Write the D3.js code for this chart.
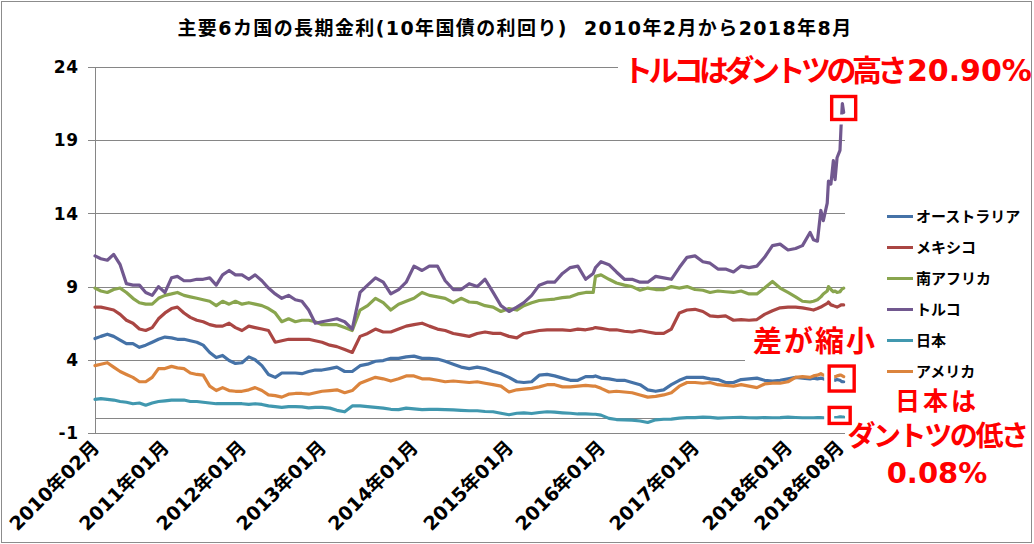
<!DOCTYPE html>
<html><head><meta charset="utf-8">
<script src="https://cdn.jsdelivr.net/npm/d3@7"></script>
<style>
html,body{margin:0;padding:0;background:#fff;}
svg{display:block;}
text{font-family:"DejaVu Sans","Noto Sans CJK JP",sans-serif;font-weight:bold;}
</style></head><body>
<svg id="chart" width="1034" height="544"></svg>
<script>
// ---------------- DATA ----------------
const dates = [
"2010-02-01","2010-03-01","2010-04-01","2010-05-01","2010-06-01","2010-07-01","2010-08-01","2010-09-01","2010-10-01","2010-11-01","2010-12-01",
"2011-01-01","2011-02-01","2011-03-01","2011-04-01","2011-05-01","2011-06-01","2011-07-01","2011-08-01","2011-09-01","2011-10-01","2011-11-01","2011-12-01",
"2012-01-01","2012-02-01","2012-03-01","2012-04-01","2012-05-01","2012-06-01","2012-07-01","2012-08-01","2012-09-01","2012-10-01","2012-11-01","2012-12-01",
"2013-01-01","2013-02-01","2013-03-01","2013-04-01","2013-05-01","2013-06-01","2013-07-01","2013-08-01","2013-09-01","2013-10-01","2013-11-01","2013-12-01",
"2014-01-01","2014-02-01","2014-03-01","2014-04-01","2014-05-01","2014-06-01","2014-07-01","2014-08-01","2014-09-01","2014-10-01","2014-11-01","2014-12-01",
"2015-01-01","2015-02-01","2015-03-01","2015-04-01","2015-05-01","2015-06-01","2015-07-01","2015-08-01","2015-09-01","2015-10-01","2015-11-01","2015-12-01","2015-12-10",
"2016-01-01","2016-02-01","2016-03-01","2016-04-01","2016-05-01","2016-06-01","2016-07-01","2016-08-01","2016-09-01","2016-10-01","2016-11-01","2016-12-01",
"2017-01-01","2017-02-01","2017-03-01","2017-04-01","2017-05-01","2017-06-01","2017-07-01","2017-08-01","2017-09-01","2017-10-01","2017-11-01","2017-12-01",
"2018-01-01","2018-02-01","2018-03-01","2018-04-01","2018-04-15","2018-05-01","2018-05-15","2018-05-25","2018-06-10","2018-06-15","2018-06-25","2018-07-05","2018-07-12","2018-07-20","2018-08-01","2018-08-05","2018-08-10","2018-08-15"
];

const australia = [
5.45,5.6,5.75,5.6,5.35,5.1,5.1,4.85,5.0,5.2,5.4,
5.55,5.5,5.4,5.4,5.3,5.2,5.0,4.5,4.15,4.3,3.95,3.75,
3.8,4.2,4.0,3.6,3.0,2.8,3.1,3.1,3.1,3.05,3.2,3.3,
3.3,3.4,3.5,3.2,3.2,3.6,3.7,3.9,3.95,4.1,4.1,4.2,
4.25,4.1,4.1,4.05,3.9,3.7,3.5,3.4,3.5,3.4,3.2,3.05,
2.8,2.5,2.45,2.5,2.95,3.0,2.9,2.75,2.6,2.6,2.85,2.85,2.9,
2.75,2.7,2.6,2.6,2.45,2.3,1.95,1.85,1.95,2.3,2.6,2.8,
2.8,2.8,2.7,2.65,2.45,2.45,2.65,2.7,2.75,2.6,2.55,2.6,
2.7,2.8,2.75,2.7,2.75,2.7,2.75,2.7,2.65,2.6,2.6,2.65,2.6,2.65,2.6,2.55,2.5,2.5
];
const mexico = [
7.6,7.6,7.5,7.4,7.1,6.7,6.5,6.1,6.0,6.2,6.8,
7.2,7.5,7.6,7.2,6.9,6.7,6.6,6.4,6.3,6.3,6.5,6.2,
6.0,6.3,6.2,6.1,6.0,5.2,5.3,5.4,5.4,5.4,5.4,5.3,
5.2,5.0,4.9,4.7,4.5,5.6,5.8,6.1,5.9,5.9,6.1,6.3,
6.4,6.5,6.3,6.1,6.0,5.8,5.7,5.6,5.8,5.9,5.8,5.8,
5.6,5.5,5.8,5.9,6.0,6.05,6.05,6.05,6.0,6.1,6.05,6.15,6.2,
6.15,6.05,6.05,5.95,5.9,6.0,5.9,5.8,5.8,6.1,7.2,7.4,
7.45,7.3,7.0,6.95,7.0,6.7,6.75,6.7,6.75,7.1,7.35,7.55,
7.6,7.6,7.55,7.45,7.4,7.5,7.6,7.7,7.85,7.95,7.75,7.7,7.65,7.6,7.7,7.75,7.75,7.75
];
const southAfrica = [
8.9,8.7,8.6,8.8,8.9,8.6,8.2,7.9,7.8,7.8,8.2,
8.4,8.5,8.6,8.4,8.3,8.2,8.1,8.0,7.7,8.0,7.8,8.0,
7.8,7.9,7.8,7.7,7.5,7.2,6.6,6.8,6.6,6.7,6.7,6.6,
6.4,6.4,6.4,6.2,6.0,7.4,7.7,8.2,7.9,7.4,7.8,8.0,
8.2,8.6,8.4,8.3,8.2,7.9,8.2,7.95,7.9,7.7,7.6,7.3,
7.5,7.4,7.7,7.9,8.05,8.1,8.15,8.25,8.3,8.5,8.6,8.6,9.7,
9.8,9.5,9.25,9.1,9.0,8.75,8.9,8.8,8.8,9.0,8.9,9.0,
8.8,8.75,8.6,8.7,8.65,8.6,8.7,8.5,8.5,8.9,9.35,8.9,
8.6,8.3,8.0,7.95,8.0,8.1,8.3,8.5,8.7,9.0,8.8,8.65,8.7,8.6,8.65,8.75,8.85,8.9
];
const turkey = [
11.1,10.9,10.8,11.2,10.5,9.2,9.1,9.1,8.6,8.4,9.0,
8.6,9.6,9.7,9.4,9.4,9.5,9.5,9.6,9.1,9.8,10.1,9.8,
9.8,9.5,9.8,9.4,8.9,8.5,8.2,8.4,8.1,8.0,7.4,6.5,
6.6,6.7,6.8,6.6,6.1,8.6,9.1,9.6,9.3,8.5,8.8,9.3,
10.4,10.1,10.4,10.4,9.4,8.8,8.8,9.2,9.0,9.5,8.6,7.7,
7.3,7.6,7.9,8.4,9.1,9.3,9.3,9.9,10.3,10.4,9.5,9.9,10.3,
10.7,10.5,10.0,9.5,9.5,9.3,9.3,9.7,9.6,9.5,10.3,11.0,
11.1,10.7,10.6,10.2,10.2,10.0,10.4,10.3,10.4,11.0,11.8,11.9,
11.5,11.6,11.8,12.7,12.2,12.1,14.2,13.5,14.7,16.2,16.0,17.6,16.3,17.8,18.3,19.9,21.5,20.9
];
const japan = [
1.3,1.35,1.3,1.25,1.15,1.1,1.0,1.05,0.9,1.05,1.15,
1.2,1.25,1.25,1.25,1.15,1.15,1.1,1.05,1.0,1.0,1.0,1.0,
1.0,0.95,1.0,0.95,0.85,0.8,0.75,0.8,0.8,0.78,0.72,0.75,
0.75,0.7,0.55,0.45,0.85,0.85,0.8,0.75,0.7,0.62,0.6,0.7,
0.65,0.6,0.62,0.62,0.6,0.58,0.55,0.52,0.52,0.47,0.45,0.35,
0.25,0.35,0.38,0.33,0.4,0.45,0.42,0.38,0.35,0.3,0.3,0.28,0.28,
0.22,0.0,-0.08,-0.1,-0.12,-0.18,-0.28,-0.1,-0.06,-0.05,0.02,0.05,
0.05,0.08,0.07,0.02,0.04,0.06,0.07,0.04,0.03,0.06,0.04,0.05,
0.08,0.06,0.04,0.04,0.04,0.05,0.05,0.04,0.04,0.04,0.03,0.04,0.05,0.06,0.1,0.1,0.09,0.08
];
const usa = [
3.6,3.7,3.8,3.5,3.2,3.0,2.8,2.5,2.5,2.8,3.4,
3.4,3.55,3.45,3.4,3.1,3.0,2.95,2.2,1.9,2.1,1.9,1.85,
1.85,1.95,2.1,1.9,1.6,1.55,1.45,1.65,1.7,1.7,1.65,1.75,
1.85,1.9,1.95,1.75,1.9,2.4,2.6,2.8,2.7,2.55,2.7,2.9,
2.9,2.7,2.7,2.6,2.5,2.55,2.5,2.45,2.5,2.4,2.3,2.2,
1.8,1.95,2.0,2.05,2.15,2.3,2.3,2.15,2.15,2.2,2.25,2.2,2.2,
2.05,1.8,1.85,1.8,1.75,1.6,1.45,1.5,1.6,1.75,2.2,2.45,
2.45,2.4,2.45,2.3,2.25,2.2,2.3,2.2,2.1,2.35,2.4,2.4,
2.5,2.8,2.85,2.8,2.9,2.95,3.05,2.95,2.95,2.9,2.85,2.85,2.85,2.9,2.95,2.95,2.9,2.85
];

const seriesNames = ["オーストラリア","メキシコ","南アフリカ","トルコ","日本","アメリカ"];
const seriesValues = [australia, mexico, southAfrica, turkey, japan, usa];

const yTicks = [-1, 4, 9, 14, 19, 24];
const xTickDates = ["2010-02-01","2011-01-01","2012-01-01","2013-01-01","2014-01-01","2015-01-01","2016-01-01","2017-01-01","2018-01-01","2018-08-01"];
const xTickLabels = ["2010年02月","2011年01月","2012年01月","2013年01月","2014年01月","2015年01月","2016年01月","2017年01月","2018年01月","2018年08月"];
const axisEndDate = "2018-08-20";

const titleText = "主要6カ国の長期金利(10年国債の利回り)  2010年2月から2018年8月";

// ---------------- LAYOUT / STYLE ----------------
const colors = ["#4572A7","#AA4643","#89A54E","#71588F","#4198AF","#DB843D"];
const plot = {left: 95, right: 845, top: 67, bottom: 433};
// relative position of each axis break along the plot width (category axis spacing)
const breakFrac = [0, 0.0933, 0.196, 0.3027, 0.4253, 0.552, 0.6747, 0.8, 0.924, 0.9933, 1];
const gridColor = "#868686";
const red = "#FF0000";

const parse = d3.timeParse("%Y-%m-%d");
const svg = d3.select("#chart");

const x = d3.scaleTime()
  .domain(xTickDates.concat([axisEndDate]).map(parse))
  .range(breakFrac.map(f => plot.left + f * (plot.right - plot.left)));
const y = d3.scaleLinear().domain([-1, 24]).range([plot.bottom, plot.top]);

// outer border
svg.append("rect").attr("x", 1.5).attr("y", 1.5).attr("width", 1030).attr("height", 541)
  .attr("fill", "#fff").attr("stroke", "#8c8c8c").attr("stroke-width", 1);

// title
svg.append("text").attr("x", 515).attr("y", 35).attr("text-anchor", "middle")
  .attr("font-size", 19).attr("letter-spacing", "1.4px").attr("fill", "#000")
  .attr("xml:space", "preserve").style("white-space", "pre").text(titleText);

// gridlines + y axis
const gGrid = svg.append("g");
gGrid.selectAll("line.grid").data(yTicks).join("line").attr("class", "grid")
  .attr("x1", plot.left - 7).attr("x2", plot.right)
  .attr("y1", d => Math.round(y(d)) + 0.5).attr("y2", d => Math.round(y(d)) + 0.5)
  .attr("stroke", gridColor).attr("stroke-width", 1);
gGrid.append("line").attr("x1", plot.left).attr("x2", plot.right)
  .attr("y1", Math.round(y(0)) + 0.5).attr("y2", Math.round(y(0)) + 0.5)
  .attr("stroke", gridColor).attr("stroke-width", 1);
gGrid.append("line").attr("x1", plot.left + 0.5).attr("x2", plot.left + 0.5)
  .attr("y1", plot.top).attr("y2", plot.bottom)
  .attr("stroke", gridColor).attr("stroke-width", 1);

svg.append("g").selectAll("text").data(yTicks).join("text")
  .attr("x", 79).attr("y", d => y(d)).attr("dy", "0.36em")
  .attr("text-anchor", "end").attr("font-size", 17).attr("letter-spacing", "0.8px")
  .attr("fill", "#000").text(d => d);

// x labels
svg.append("g").selectAll("text").data(xTickDates).join("text")
  .attr("transform", d => `translate(${x(parse(d)) + 0.5},${plot.bottom + 11}) rotate(-45)`)
  .attr("dy", "0.36em").attr("text-anchor", "end").attr("font-size", 19)
  .attr("fill", "#000").text((d, i) => xTickLabels[i]);

// white backgrounds behind annotations
svg.append("rect").attr("x", 618).attr("y", 48).attr("width", 410).attr("height", 40).attr("fill", "#fff");
svg.append("rect").attr("x", 745).attr("y", 325).attr("width", 135).attr("height", 38).attr("fill", "#fff");

// lines
const line = d3.line().x(d => x(d.date)).y(d => y(d.v));
const series = seriesNames.map((name, i) => ({
  name, color: colors[i],
  points: dates.map((dt, j) => ({date: parse(dt), v: seriesValues[i][j]}))
}));
svg.append("g").selectAll("path").data(series).join("path")
  .attr("d", d => line(d.points)).attr("fill", "none")
  .attr("stroke", d => d.color).attr("stroke-width", 3.2)
  .attr("stroke-linejoin", "round").attr("stroke-linecap", "round");

// highlight boxes near the last observation
const lastDate = parse(dates[dates.length - 1]);
const boxes = [
  {v: 21.2, w: 24, h: 23, dx: 0},
  {v: 2.72, w: 25, h: 25, dx: -2},
  {v: 0.2, w: 21, h: 16, dx: -4}
];
const gBox = svg.append("g");
boxes.forEach(b => {
  const cx = x(lastDate) + b.dx, cy = y(b.v);
  gBox.append("rect").attr("x", cx - b.w / 2).attr("y", cy - b.h / 2)
    .attr("width", b.w).attr("height", b.h).attr("fill", "none")
    .attr("stroke", "#fff").attr("stroke-width", 10);
  gBox.append("rect").attr("x", cx - b.w / 2).attr("y", cy - b.h / 2)
    .attr("width", b.w).attr("height", b.h).attr("fill", "none")
    .attr("stroke", red).attr("stroke-width", 3.4);
});

// legend
const lg = svg.append("g").selectAll("g").data(series).join("g")
  .attr("transform", (d, i) => `translate(887,${216.5 + i * 31})`);
lg.append("line").attr("x1", 0).attr("x2", 26).attr("y1", 0).attr("y2", 0)
  .attr("stroke", d => d.color).attr("stroke-width", 3);
lg.append("text").attr("x", 29).attr("y", 0).attr("dy", "0.36em")
  .attr("font-size", 15).attr("fill", "#000").text(d => d.name);

// annotations
const t1 = svg.append("text").attr("x", 623).attr("y", 81).attr("fill", red);
t1.append("tspan").attr("font-size", 30).attr("letter-spacing", "-4.5px").text("トルコはダントツの高さ");
t1.append("tspan").attr("font-size", 30).attr("dx", 4).text("20.90%");

svg.append("text").attr("x", 753).attr("y", 352).attr("fill", red)
  .attr("font-size", 29).attr("letter-spacing", "2px").text("差が縮小");

const ja = svg.append("g").attr("fill", red).attr("text-anchor", "middle");
ja.append("text").attr("x", 937).attr("y", 410).attr("font-size", 25).attr("letter-spacing", "3px").text("日本は");
ja.append("text").attr("x", 937).attr("y", 446).attr("font-size", 28).attr("letter-spacing", "-2.4px").text("ダントツの低さ");
ja.append("text").attr("x", 937).attr("y", 483).attr("font-size", 29).text("0.08%");
</script>
</body></html>
